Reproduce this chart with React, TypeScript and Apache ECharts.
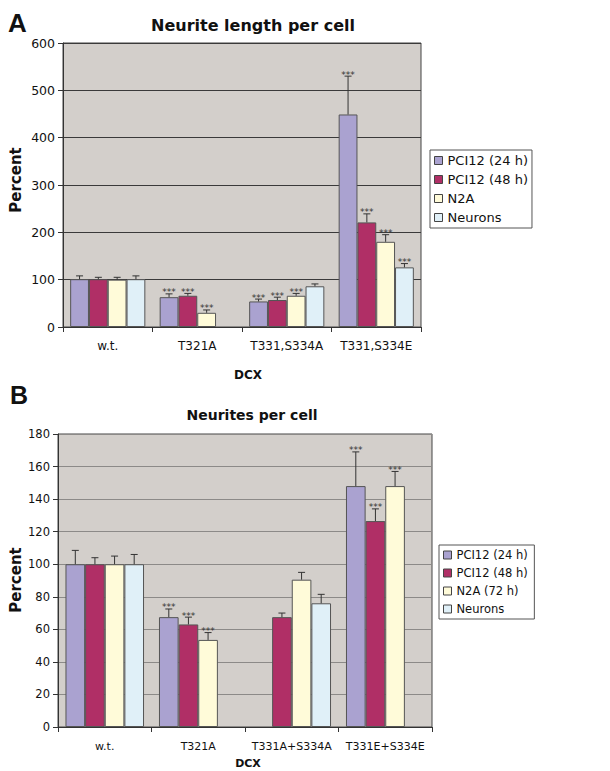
import React, { useEffect, useRef } from "react";
import * as echarts from "echarts";

const seriesNamesA = ["PCI12 (24 h)", "PCI12 (48 h)", "N2A", "Neurons"];
const seriesNamesB = ["PCI12 (24 h)", "PCI12 (48 h)", "N2A (72 h)", "Neurons"];
const colors = ["#aaa2d0", "#b02f66", "#fffbd9", "#e0f0f8"];

const categoriesA = ["w.t.", "T321A", "T331,S334A", "T331,S334E"];
const meansA = [
  [101, 63, 54, 449],
  [101, 66, 57, 221],
  [100, 30, 66, 180],
  [101, null, 86, 126],
];
const errA = [
  [7, 7, 5, 81],
  [4, 5, 6, 18],
  [5, 6, 5, 15],
  [7, 0, 5, 8],
];
const sigA = [
  [false, true, true, true],
  [false, true, true, true],
  [false, true, true, true],
  [false, false, false, true],
];
const ticksA = [0, 100, 200, 300, 400, 500, 600];

const categoriesB = ["w.t.", "T321A", "T331A+S334A", "T331E+S334E"];
const meansB = [
  [100, 67.5, null, 148],
  [100, 63, 67.5, 126.5],
  [100, 53.5, 90.5, 148],
  [100, null, 76, null],
];
const errB = [
  [8.5, 5, 0, 21],
  [4, 4.5, 2.5, 7.5],
  [5, 4.5, 4.5, 9],
  [6, 0, 5.5, 0],
];
const sigB = [
  [false, true, false, true],
  [false, true, false, true],
  [false, true, false, true],
  [false, false, false, false],
];
const ticksB = [0, 20, 40, 60, 80, 100, 120, 140, 160, 180];

const GAP = 0.16;
const FONT = "DejaVu Sans";

function makeErrSeries(k: number, means: (number | null)[], errs: number[], sig: boolean[], axis: number, sigSize: number) {
  const data: any[] = [];
  means.forEach((m, i) => {
    if (m !== null && m !== undefined) data.push([i, m + errs[i], m, sig[i] ? 1 : 0]);
  });
  return {
    type: "custom",
    name: "err" + axis + "_" + k,
    xAxisIndex: axis,
    yAxisIndex: axis,
    z: 5,
    silent: true,
    encode: { x: 0, y: 1 },
    data,
    renderItem: (params: any, api: any) => {
      const ci = api.value(0);
      const top = api.value(1);
      const mean = api.value(2);
      const s = api.value(3);
      const c = api.coord([ci, mean]);
      const t = api.coord([ci, top]);
      const band = api.size([1, 0])[0];
      const gw = band * (1 - GAP);
      const bw = gw / 4;
      const x = c[0] - gw / 2 + bw * (k + 0.5);
      const children: any[] = [
        { type: "line", shape: { x1: x, y1: c[1], x2: x, y2: t[1] }, style: { stroke: "#333", lineWidth: 1 } },
        { type: "line", shape: { x1: x - 3.5, y1: t[1], x2: x + 3.5, y2: t[1] }, style: { stroke: "#333", lineWidth: 1 } },
      ];
      if (s) {
        children.push({
          type: "text",
          x: x,
          y: t[1] + 3,
          style: { text: "***", fontSize: sigSize, fontFamily: FONT, fill: "#333", textAlign: "center", textVerticalAlign: "bottom" },
        });
      }
      return { type: "group", children };
    },
  };
}

function makeBars(names: string[], means: (number | null)[][], axis: number) {
  return names.map((n, k) => ({
    type: "bar",
    name: n,
    xAxisIndex: axis,
    yAxisIndex: axis,
    barGap: "0%",
    barCategoryGap: GAP * 100 + "%",
    data: means[k],
    itemStyle: { color: colors[k], borderColor: "#555", borderWidth: 1 },
  }));
}

export default function App() {
  const ref = useRef<HTMLDivElement>(null);
  useEffect(() => {
    if (!ref.current) return;
    const chart = echarts.init(ref.current, undefined, { renderer: "svg" });
    const axisLabelY = { color: "#111", fontFamily: FONT, margin: 8 };
    const option: any = {
      animation: false,
      backgroundColor: "#ffffff",
      title: [
        { text: "Neurite length per cell", left: 248, top: 12, textAlign: "center", textStyle: { fontFamily: FONT, fontSize: 16, fontWeight: "bold", color: "#111" } },
        { text: "Neurites per cell", left: 247, top: 403, textAlign: "center", textStyle: { fontFamily: FONT, fontSize: 14, fontWeight: "bold", color: "#111" } },
      ],
      legend: [
        {
          data: seriesNamesA,
          orient: "vertical",
          left: 430,
          top: 150,
          itemWidth: 8,
          itemHeight: 8,
          itemGap: 6,
          padding: [4, 4, 4, 4],
          icon: "rect",
          backgroundColor: "#fff",
          borderColor: "#555",
          borderWidth: 1,
          borderRadius: 0,
          textStyle: { fontFamily: FONT, fontSize: 13, color: "#111" },
          itemStyle: { borderColor: "#444", borderWidth: 1 },
          selectedMode: false,
        },
        {
          data: seriesNamesB.map((n) => ({ name: n + " " })),
          orient: "vertical",
          left: 439,
          top: 545,
          itemWidth: 8,
          itemHeight: 8,
          itemGap: 6,
          padding: [4, 3, 4, 4],
          icon: "rect",
          backgroundColor: "#fff",
          borderColor: "#555",
          borderWidth: 1,
          borderRadius: 0,
          textStyle: { fontFamily: FONT, fontSize: 11.5, color: "#111" },
          itemStyle: { borderColor: "#444", borderWidth: 1 },
          selectedMode: false,
        },
      ],
      grid: [
        { left: 63, top: 43, right: 189, bottom: 444, show: true, backgroundColor: "#d3cfcb", borderColor: "#444", borderWidth: 1 },
        { left: 58, top: 434, right: 178, bottom: 44, show: true, backgroundColor: "#d3cfcb", borderColor: "#444", borderWidth: 1 },
      ],
      xAxis: [
        {
          type: "category",
          gridIndex: 0,
          data: categoriesA,
          axisLine: { lineStyle: { color: "#333" } },
          axisTick: { show: true, length: 5, lineStyle: { color: "#333" } },
          axisLabel: { interval: 0, color: "#111", fontFamily: FONT, fontSize: 12, margin: 13 },
        },
        {
          type: "category",
          gridIndex: 1,
          data: categoriesB,
          axisLine: { lineStyle: { color: "#333" } },
          axisTick: { show: true, length: 5, lineStyle: { color: "#333" } },
          axisLabel: { interval: 0, color: "#111", fontFamily: FONT, fontSize: 11, margin: 14 },
        },
      ],
      yAxis: [
        {
          type: "value",
          gridIndex: 0,
          min: ticksA[0],
          max: ticksA[ticksA.length - 1],
          interval: 100,
          axisLine: { show: true, lineStyle: { color: "#333" } },
          axisTick: { show: true, length: 5, lineStyle: { color: "#333" } },
          splitLine: { lineStyle: { color: "#3a3a3a", width: 1.2 } },
          axisLabel: { ...axisLabelY, fontSize: 12.5 },
        },
        {
          type: "value",
          gridIndex: 1,
          min: ticksB[0],
          max: ticksB[ticksB.length - 1],
          interval: 20,
          axisLine: { show: true, lineStyle: { color: "#333" } },
          axisTick: { show: true, length: 5, lineStyle: { color: "#333" } },
          splitLine: { lineStyle: { color: "#8c8a88", width: 1.2 } },
          axisLabel: { ...axisLabelY, fontSize: 11.5 },
        },
      ],
      graphic: [
        { type: "text", x: 8, y: 10, style: { text: "A", fontFamily: "Liberation Sans", fontWeight: "bold", fontSize: 26, fill: "#111" } },
        { type: "text", x: 10, y: 382, style: { text: "B", fontFamily: "Liberation Sans", fontWeight: "bold", fontSize: 25, fill: "#111" } },
        { type: "text", x: 16, y: 180, rotation: Math.PI / 2, style: { text: "Percent", fontFamily: FONT, fontWeight: "bold", fontSize: 15, fill: "#111", textAlign: "center", textVerticalAlign: "middle" } },
        { type: "text", x: 16, y: 580, rotation: Math.PI / 2, style: { text: "Percent", fontFamily: FONT, fontWeight: "bold", fontSize: 15, fill: "#111", textAlign: "center", textVerticalAlign: "middle" } },
        { type: "text", x: 248, y: 375, style: { text: "DCX", fontFamily: FONT, fontWeight: "bold", fontSize: 12, fill: "#111", textAlign: "center", textVerticalAlign: "middle" } },
        { type: "text", x: 248, y: 763, style: { text: "DCX", fontFamily: FONT, fontWeight: "bold", fontSize: 11, fill: "#111", textAlign: "center", textVerticalAlign: "middle" } },
      ],
      series: [
        ...makeBars(seriesNamesA, meansA, 0),
        ...makeBars(seriesNamesB.map((n) => n + " "), meansB, 1),
        ...meansA.map((m, k) => makeErrSeries(k, m, errA[k], sigA[k], 0, 9)),
        ...meansB.map((m, k) => makeErrSeries(k, m, errB[k], sigB[k], 1, 9)),
      ],
    };
    chart.setOption(option);
    return () => chart.dispose();
  }, []);
  return <div ref={ref} style={{ position: "absolute", left: 0, top: 0, width: 610, height: 771 }} />;
}
